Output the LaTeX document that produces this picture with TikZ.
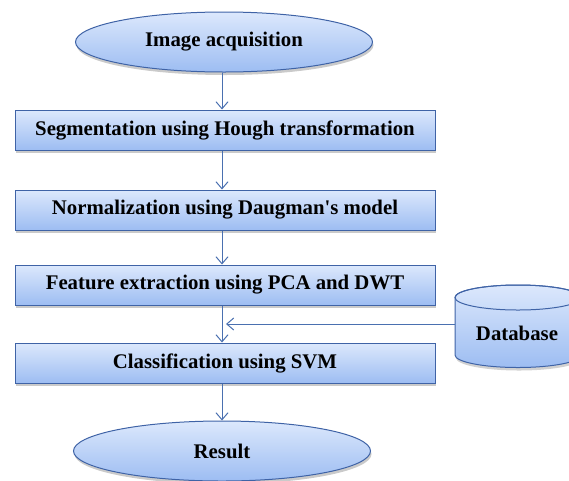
\documentclass[tikz,border=0pt]{standalone}
\usepackage{fontspec}
\setmainfont{Liberation Serif}
\usetikzlibrary{shapes.geometric,arrows.meta,shadows,fadings}
\definecolor{bordc}{HTML}{3F63A6}
\definecolor{topc}{HTML}{DCE8FC}
\definecolor{botc}{HTML}{9DBDF2}
\definecolor{linec}{HTML}{4A70B0}
\begin{document}
\begin{tikzpicture}[x=1pt,y=-1pt,
  lbl/.style={font=\bfseries\fontsize{20.8}{24}\selectfont, text=black},
  fillc/.style={draw=bordc, line width=1pt, top color=topc, bottom color=botc,
     drop shadow={shadow xshift=1pt, shadow yshift=-3pt, opacity=0.35, fill=black!60}},
  procbox/.style={fillc, lbl, rectangle, minimum width=420pt, minimum height=40pt, inner sep=0pt},
  termnode/.style={fillc, lbl, ellipse, minimum width=297pt, minimum height=60pt, inner sep=0pt},
  arr/.style={draw=linec, line width=1pt, -{Straight Barb[length=7pt,width=12pt,line width=1pt]}}]
\useasboundingbox (0,0) rectangle (569,480);
\begin{scope}
\clip (0,0) rectangle (569,480);
\node[termnode] (acq) at (224,42) {Image acquisition};
\node[procbox] (seg) at (225,130) {Segmentation using Hough transformation};
\node[procbox] (norm) at (225,210) {Normalization using Daugman\textquotesingle s model};
\node[procbox] (feat) at (225,285) {Feature extraction using PCA and DWT};
\node[procbox] (cls) at (225,363) {Classification using SVM};
\node[termnode] (res) at (222,451) {Result};
% database cylinder
\fill[black!60, opacity=0.3] (456,300) -- (456,358) arc[start angle=180, end angle=360, x radius=63pt, y radius=12.5pt] -- (582,300) -- cycle;
\path[draw=bordc, line width=1pt, top color=topc, bottom color=botc]
  (455,297.5) -- (455,355) arc[start angle=180, end angle=360, x radius=63pt, y radius=12.5pt]
  -- (581,297.5) arc[start angle=0, end angle=180, x radius=63pt, y radius=12.5pt] -- cycle;
\draw[bordc, line width=1pt] (518,297.5) ellipse[x radius=63pt, y radius=12.5pt];
\node[lbl] (db) at (517,333) {Database};
\coordinate (dbw) at (455,324);
\coordinate (join) at (222,324);
\draw[arr] (acq.south -| 222,0) -- (seg.north -| 222,0);
\draw[arr] (seg.south -| 222,0) -- (norm.north -| 222,0);
\draw[arr] (norm.south -| 222,0) -- (feat.north -| 222,0);
\draw[arr] (feat.south -| 222,0) -- (cls.north -| 222,0);
\draw[arr] (cls.south -| 222,0) -- (res.north -| 222,0);
\draw[arr] (dbw) -- ([xshift=4pt]join);
\end{scope}
\end{tikzpicture}
\end{document}
